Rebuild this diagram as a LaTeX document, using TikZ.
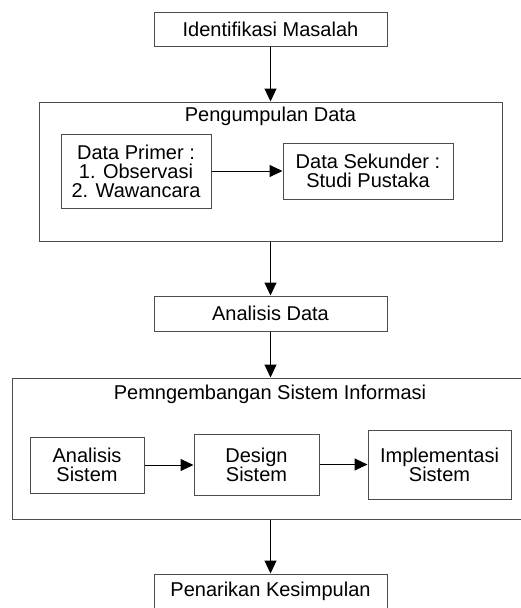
\documentclass[tikz,border=0pt]{standalone}
\usepackage{fontspec}
\setmainfont{Liberation Sans}
\usetikzlibrary{arrows.meta}
\begin{document}
\begin{tikzpicture}[x=1pt,y=-1pt,
  box/.style={draw=black!70, line width=1pt, inner sep=0pt, align=center, font=\fontsize{20}{19}\selectfont},
  titletext/.style={inner sep=0pt, font=\fontsize{20}{19}\selectfont},
  arr/.style={-{Triangle[length=13pt,width=12pt]}, line width=1pt, draw=black, fill=black}]
\useasboundingbox (0,0) rectangle (520,608);
\node[box, minimum width=233pt, minimum height=34pt] (ident) at (270.5,29) {Identifikasi Masalah};
\node[box, minimum width=463pt, minimum height=139pt] (big1) at (270.5,171.5) {};
\node[titletext] (t1) at (270.5,116) {Pengumpulan Data};
\node[box, minimum width=150pt, minimum height=74pt] (primer) at (136,171) {Data Primer :\\1. Observasi\\2. Wawancara};
\node[box, minimum width=170pt, minimum height=56pt] (sekunder) at (368,171) {Data Sekunder :\\Studi Pustaka};
\node[box, minimum width=233pt, minimum height=35pt] (ad) at (270.5,313.5) {Analisis Data};
\node[box, minimum width=513pt, minimum height=141pt] (big2) at (268.5,448.5) {};
\node[titletext] (t2) at (270,394) {Pemngembangan Sistem Informasi};
\node[box, minimum width=114pt, minimum height=56pt] (as) at (87,465) {Analisis\\Sistem};
\node[box, minimum width=125pt, minimum height=61pt] (ds) at (256.5,464.5) {Design\\Sistem};
\node[box, minimum width=143pt, minimum height=69pt] (is) at (439.5,464.5) {Implementasi\\Sistem};
\node[box, minimum width=233pt, minimum height=35pt] (pen) at (270.5,591.5) {Penarikan Kesimpulan};
\draw[arr] (ident.south) -- (big1.north);
\draw[arr] (primer.east) -- (sekunder.west);
\draw[arr] (big1.south) -- (ad.north);
\draw[arr] (ad.south) -- (ad.south |- big2.north);
\draw[arr] (as.east) -- (as.east -| ds.west);
\draw[arr] (ds.east) -- (ds.east -| is.west);
\draw[arr] (pen.north |- big2.south) -- (pen.north);
\end{tikzpicture}
\end{document}
